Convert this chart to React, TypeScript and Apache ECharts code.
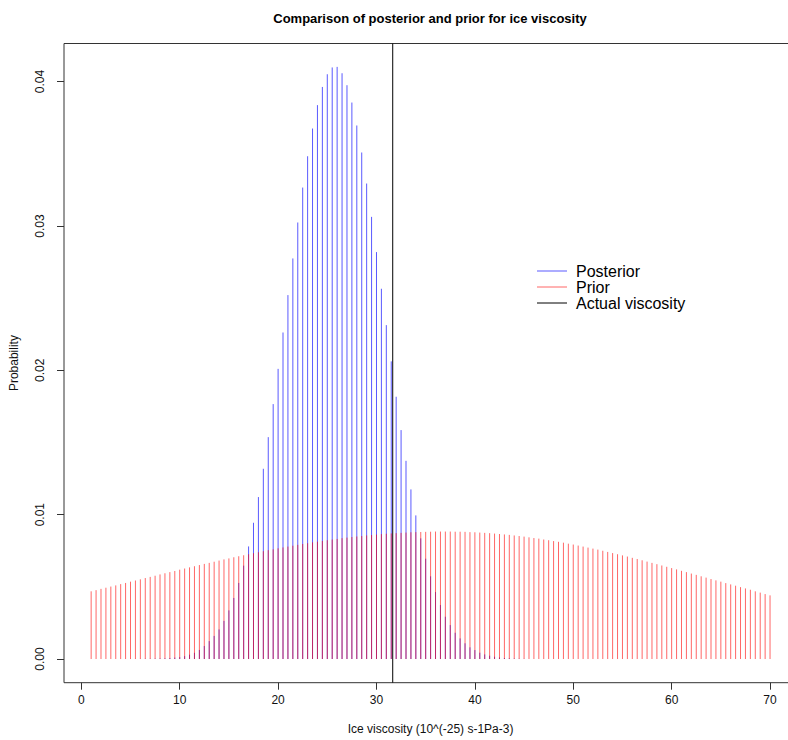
import React, { useEffect, useRef } from "react";
import * as echarts from "echarts";

// ---- data ----
const X_START = 1;
const X_STEP = 0.5;

// posterior probability at x = 1, 1.5, 2, ... 45
const POSTERIOR = [
  0, 0, 0, 0, 0, 0,
  0.000005, 0.000005, // 4
  0.00001, 0.00001, // 5
  0.00001, 0.00002, // 6
  0.00002, 0.00003, // 7
  0.00004, 0.00005, // 8
  0.00007, 0.0001, // 9
  0.00013, 0.0002, // 10
  0.0003, 0.00043, // 11
  0.00063, 0.0009, // 12
  0.00124, 0.0016, // 13
  0.00205, 0.00264, // 14
  0.00337, 0.00423, // 15
  0.00527, 0.00647, // 16
  0.0078, 0.00944, // 17
  0.01122, 0.01318, // 18
  0.01537, 0.01766, // 19
  0.0201, 0.02262, // 20
  0.02521, 0.02775, // 21
  0.03024, 0.03266, // 22
  0.03483, 0.03675, // 23
  0.03837, 0.03963, // 24
  0.04051, 0.04098, // 25
  0.04102, 0.04058, // 26
  0.03975, 0.03855, // 27
  0.03696, 0.03509, // 28
  0.03294, 0.03063, // 29
  0.02819, 0.02565, // 30
  0.02313, 0.02062, // 31
  0.01817, 0.01586, // 32
  0.01373, 0.01175, // 33
  0.00995, 0.00836, // 34
  0.00695, 0.00573, // 35
  0.00464, 0.00374, // 36
  0.00293, 0.00235, // 37
  0.00182, 0.00143, // 38
  0.00109, 0.00081, // 39
  0.00062, 0.00044, // 40
  0.00032, 0.00023, // 41
  0.00016, 0.00011, // 42
  0.00007, 0.00005, // 43
  0.00003, 0.00002, // 44
  0.00001, // 45
];

// prior probability at x = 1, 1.5, 2, ... 70
const PRIOR = [
  0.00469, 0.00477, // 1
  0.00486, 0.00494, // 2
  0.00502, 0.0051, // 3
  0.00519, 0.00527, // 4
  0.00536, 0.00544, // 5
  0.00552, 0.00561, // 6
  0.00569, 0.00577, // 7
  0.00586, 0.00594, // 8
  0.00602, 0.0061, // 9
  0.00619, 0.00627, // 10
  0.00635, 0.00643, // 11
  0.00651, 0.00659, // 12
  0.00666, 0.00674, // 13
  0.00682, 0.0069, // 14
  0.00697, 0.00705, // 15
  0.00712, 0.00719, // 16
  0.00726, 0.00733, // 17
  0.0074, 0.00747, // 18
  0.00754, 0.0076, // 19
  0.00767, 0.00773, // 20
  0.00779, 0.00785, // 21
  0.00791, 0.00797, // 22
  0.00802, 0.00808, // 23
  0.00813, 0.00818, // 24
  0.00823, 0.00828, // 25
  0.00832, 0.00837, // 26
  0.00841, 0.00845, // 27
  0.00849, 0.00852, // 28
  0.00856, 0.00859, // 29
  0.00862, 0.00865, // 30
  0.00868, 0.0087, // 31
  0.00872, 0.00874, // 32
  0.00876, 0.00878, // 33
  0.00879, 0.0088, // 34
  0.00881, 0.00882, // 35
  0.00883, 0.00883, // 36
  0.00883, 0.00883, // 37
  0.00882, 0.00882, // 38
  0.00881, 0.00879, // 39
  0.00878, 0.00876, // 40
  0.00874, 0.00872, // 41
  0.00869, 0.00866, // 42
  0.00863, 0.0086, // 43
  0.00856, 0.00852, // 44
  0.00848, 0.00843, // 45
  0.00838, 0.00834, // 46
  0.00828, 0.00823, // 47
  0.00817, 0.00812, // 48
  0.00806, 0.00799, // 49
  0.00793, 0.00786, // 50
  0.00779, 0.00772, // 51
  0.00765, 0.00758, // 52
  0.0075, 0.00742, // 53
  0.00734, 0.00726, // 54
  0.00718, 0.0071, // 55
  0.00701, 0.00693, // 56
  0.00684, 0.00675, // 57
  0.00666, 0.00657, // 58
  0.00648, 0.00639, // 59
  0.0063, 0.00621, // 60
  0.00611, 0.00602, // 61
  0.00592, 0.00583, // 62
  0.00573, 0.00564, // 63
  0.00554, 0.00545, // 64
  0.00536, 0.00526, // 65
  0.00517, 0.00508, // 66
  0.00498, 0.00489, // 67
  0.0048, 0.00469, // 68
  0.0046, 0.0045, // 69
  0.00441, // 70
];

const ACTUAL_VISCOSITY = 31.65;

const X_TICKS = [0, 10, 20, 30, 40, 50, 60, 70];
const Y_TICKS = [0, 0.01, 0.02, 0.03, 0.04];

const TITLE = "Comparison of posterior and prior for ice viscosity";
const X_TITLE = "Ice viscosity (10^(-25) s-1Pa-3)";
const Y_TITLE = "Probability";
const LEGEND_NAMES = ["Posterior", "Prior", "Actual viscosity"];

// ---- styles ----
const FONT = "'Liberation Sans', Arial, Helvetica, sans-serif";
const BLUE = "rgba(0,0,255,0.65)";
const RED = "rgba(255,0,0,0.6)";
const BLACK = "#000000";
const LEGEND_COLORS = [BLUE, RED, BLACK];

const X_MIN = -1.76;
const X_MAX = 72.76;
const Y_MIN = -0.00164;
const Y_MAX = 0.04264;

// the plot box runs past the right edge of the 788px picture
const CANVAS_W = 800;
const CANVAS_H = 740;

function toPairs(values: number[]) {
  return values.map((v, i) => [X_START + X_STEP * i, v]);
}

function hSeries(name: string, values: number[], color: string) {
  return {
    type: "custom",
    name,
    data: toPairs(values),
    encode: { x: 0, y: 1 },
    silent: true,
    renderItem: (_params: any, api: any) => {
      const x = api.value(0);
      const y = api.value(1);
      if (!y) return null;
      const p0 = api.coord([x, 0]);
      const p1 = api.coord([x, y]);
      return {
        type: "line",
        shape: { x1: p0[0], y1: p0[1], x2: p1[0], y2: p1[1] },
        style: { stroke: color, lineWidth: 1 },
      };
    },
  };
}

export default function App() {
  const ref = useRef<HTMLDivElement>(null);

  useEffect(() => {
    if (!ref.current) return;
    const chart = echarts.init(ref.current, undefined, { renderer: "svg" });

    const legendGraphics: any[] = [];
    LEGEND_NAMES.forEach((name, i) => {
      const y = 271 + i * 16;
      legendGraphics.push({
        type: "line",
        shape: { x1: 537, y1: y, x2: 567, y2: y },
        style: { stroke: LEGEND_COLORS[i], lineWidth: 1 },
      });
      legendGraphics.push({
        type: "text",
        x: 576,
        y,
        style: {
          text: name,
          fill: "#000",
          font: `16px ${FONT}`,
          verticalAlign: "middle",
          align: "left",
        },
      });
    });

    const option: any = {
      animation: false,
      backgroundColor: "#ffffff",
      grid: {
        left: 62.65,
        right: CANVAS_W - 797.2,
        top: 43.5,
        bottom: 57.3,
        show: true,
        borderColor: "#333",
        borderWidth: 1,
        backgroundColor: "transparent",
        containLabel: false,
      },
      xAxis: {
        type: "value",
        min: X_MIN,
        max: X_MAX,
        splitLine: { show: false },
        axisLine: { show: false, onZero: false },
        axisTick: {
          show: true,
          length: 7,
          inside: false,
          customValues: X_TICKS,
          lineStyle: { color: "#333" },
        },
        axisLabel: {
          customValues: X_TICKS,
          margin: 11,
          fontSize: 12,
          color: "#111",
          fontFamily: FONT,
        },
        name: X_TITLE,
        nameLocation: "middle",
        nameGap: 40,
        nameTextStyle: { fontSize: 12, color: "#111", fontFamily: FONT },
      },
      yAxis: {
        type: "value",
        min: Y_MIN,
        max: Y_MAX,
        splitLine: { show: false },
        axisLine: { show: false, onZero: false },
        axisTick: {
          show: true,
          length: 7,
          inside: false,
          customValues: Y_TICKS,
          lineStyle: { color: "#333" },
        },
        axisLabel: {
          customValues: Y_TICKS,
          rotate: 90,
          margin: 18,
          fontSize: 12,
          color: "#111",
          fontFamily: FONT,
          formatter: (v: number) => v.toFixed(2),
        },
        name: Y_TITLE,
        nameLocation: "middle",
        nameGap: 44,
        nameRotate: 90,
        nameTextStyle: { fontSize: 12, color: "#111", fontFamily: FONT },
      },
      graphic: [
        {
          type: "text",
          x: 430,
          y: 18,
          style: {
            text: TITLE,
            fill: "#000",
            font: `bold 13px ${FONT}`,
            align: "center",
            verticalAlign: "middle",
          },
        },
        ...legendGraphics,
      ],
      series: [
        hSeries(LEGEND_NAMES[0], POSTERIOR, BLUE),
        hSeries(LEGEND_NAMES[1], PRIOR, RED),
        {
          type: "line",
          name: LEGEND_NAMES[2],
          data: [
            [ACTUAL_VISCOSITY, Y_MIN],
            [ACTUAL_VISCOSITY, Y_MAX],
          ],
          symbol: "none",
          silent: true,
          lineStyle: { color: BLACK, width: 1 },
        },
      ],
    };

    chart.setOption(option);
    return () => chart.dispose();
  }, []);

  return (
    <div
      ref={ref}
      style={{
        position: "fixed",
        left: 0,
        top: 0,
        width: CANVAS_W,
        height: CANVAS_H,
        background: "#fff",
      }}
    />
  );
}
